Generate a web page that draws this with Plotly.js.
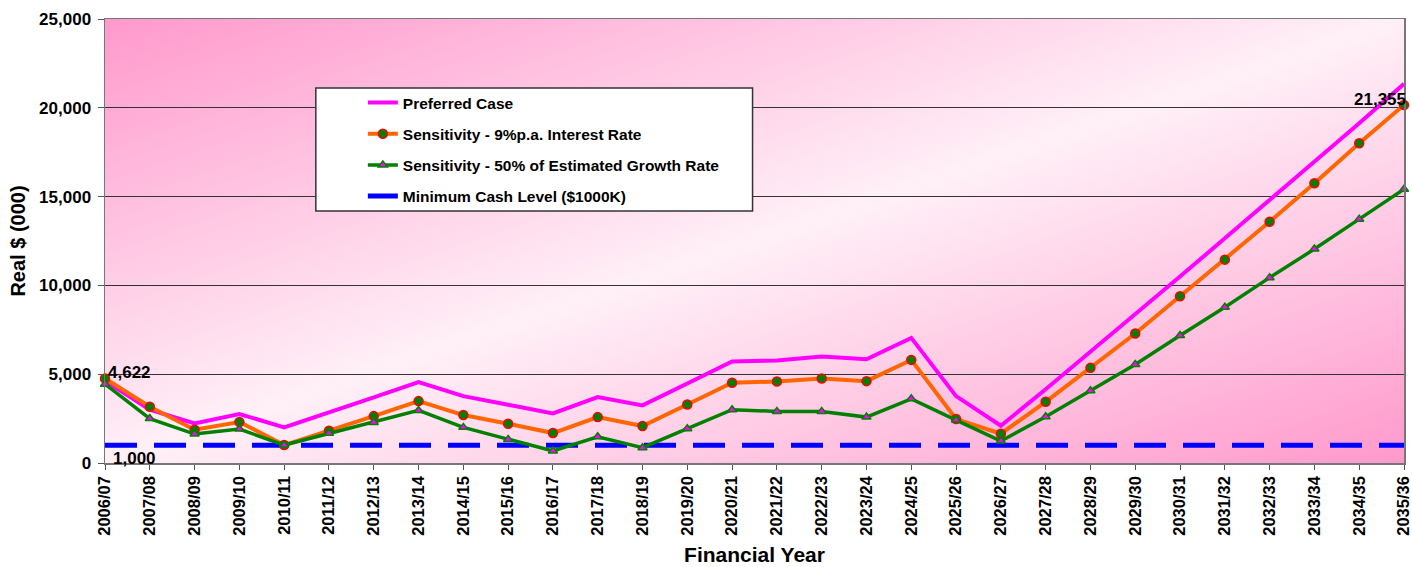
<!DOCTYPE html>
<html>
<head>
<meta charset="utf-8">
<script src="https://cdn.plot.ly/plotly-3.0.1.min.js"></script>
<style>
  html, body { margin: 0; padding: 0; background: #ffffff; }
  #chart { width: 1412px; height: 567px; }
</style>
</head>
<body>
<div id="chart"></div>
<script>
// Financial years on the category axis
const years = ['2006/07','2007/08','2008/09','2009/10','2010/11','2011/12','2012/13','2013/14','2014/15','2015/16',
               '2016/17','2017/18','2018/19','2019/20','2020/21','2021/22','2022/23','2023/24','2024/25','2025/26',
               '2026/27','2027/28','2028/29','2029/30','2030/31','2031/32','2032/33','2033/34','2034/35','2035/36'];

// Cash balance, Real $ (000)
const preferredCase = [4622, 3000, 2230, 2754, 2006, 2830, 3690, 4552, 3765, 3280,
                       2793, 3710, 3243, 4478, 5714, 5770, 5995, 5845, 7045, 3765,
                       2100, 4150, 6250, 8380, 10500, 12650, 14800, 16950, 19130, 21355];

const interestRate9 = [4760, 3165, 1870, 2304, 1012, 1816, 2641, 3484, 2698, 2210,
                       1686, 2585, 2080, 3298, 4515, 4590, 4760, 4610, 5805, 2473,
                       1648, 3447, 5357, 7290, 9385, 11450, 13585, 15750, 18000, 20160];

const growth50 = [4440, 2500, 1630, 1911, 1010, 1670, 2287, 2960, 2006, 1330,
                  674, 1480, 860, 1930, 3000, 2905, 2905, 2585, 3614, 2417,
                  1236, 2603, 4065, 5547, 7175, 8770, 10436, 12045, 13730, 15415];

const minimumCash = [1000, 1000, 1000, 1000, 1000, 1000, 1000, 1000, 1000, 1000,
                     1000, 1000, 1000, 1000, 1000, 1000, 1000, 1000, 1000, 1000,
                     1000, 1000, 1000, 1000, 1000, 1000, 1000, 1000, 1000, 1000];

const yTicks = [0, 5000, 10000, 15000, 20000, 25000];

const FONT = 'Arial, "Liberation Sans", sans-serif';
const fmt = v => v.toLocaleString('en-US');

const traces = [
  {
    name: 'Minimum Cash Level ($1000K)', x: years, y: minimumCash, type: 'scatter', mode: 'lines',
    line: { color: '#0000ff', width: 5, dash: '32px,17px' },
    legendgroup: 'd', legendrank: 4, cliponaxis: false
  },
  {
    name: 'Preferred Case', x: years, y: preferredCase, type: 'scatter', mode: 'lines',
    line: { color: '#ff00ff', width: 4 },
    legendgroup: 'a', legendrank: 1, cliponaxis: false
  },
  {
    name: 'Sensitivity - 9%p.a. Interest Rate', x: years, y: interestRate9, type: 'scatter', mode: 'lines+markers',
    line: { color: '#ff6600', width: 4 },
    marker: { symbol: 'circle', size: 9, color: '#008000', line: { color: '#ff0000', width: 1.5 } },
    legendgroup: 'b', legendrank: 2, cliponaxis: false
  },
  {
    name: 'Sensitivity - 50% of Estimated Growth Rate', x: years, y: growth50, type: 'scatter', mode: 'lines+markers',
    line: { color: '#008000', width: 3.5 },
    marker: { symbol: 'triangle-up', size: 8, color: '#ff00ff', line: { color: '#008000', width: 1.5 } },
    legendgroup: 'c', legendrank: 3, cliponaxis: false
  }
];

// Diagonal pink wash behind the plot area
const wash = "<svg xmlns='http://www.w3.org/2000/svg' width='1300' height='444' preserveAspectRatio='none'>" +
  "<defs><linearGradient id='g' x1='0' y1='0' x2='1' y2='1'>" +
  "<stop offset='0' stop-color='#ff99cc'/><stop offset='0.5' stop-color='#fff0f7'/><stop offset='1' stop-color='#ff99cc'/>" +
  "</linearGradient></defs><rect width='1300' height='444' fill='url(#g)'/></svg>";

const last = years.length - 1;
const labelFont = { family: FONT, size: 17, color: '#000000', weight: 'bold' };

const layout = {
  width: 1412, height: 567,
  margin: { l: 105, r: 8, t: 19, b: 104, pad: 0 },
  paper_bgcolor: '#ffffff',
  plot_bgcolor: 'rgba(0,0,0,0)',
  font: { family: FONT, color: '#000000' },
  images: [{
    source: 'data:image/svg+xml;charset=utf-8,' + encodeURIComponent(wash),
    xref: 'paper', yref: 'paper', x: 0, y: 1, sizex: 1, sizey: 1,
    xanchor: 'left', yanchor: 'top', sizing: 'stretch', layer: 'below'
  }],
  xaxis: {
    type: 'category', range: [0, last],
    showline: true, linecolor: '#777777', linewidth: 1.5, mirror: true,
    ticks: 'outside', ticklen: 5, tickcolor: '#555555', tickwidth: 1,
    tickangle: -90, tickfont: { family: FONT, size: 16.5, weight: 'bold' },
    showgrid: false, zeroline: false,
    title: { text: 'Financial Year', font: { family: FONT, size: 21, weight: 'bold' }, standoff: 12 }
  },
  yaxis: {
    range: [0, 25000], tickvals: yTicks, ticktext: yTicks.map(fmt),
    showline: true, linecolor: '#777777', linewidth: 1.5, mirror: true,
    ticks: 'outside', ticklen: 6, tickcolor: '#555555', tickwidth: 1,
    ticklabelstandoff: 3,
    tickfont: { family: FONT, size: 17, weight: 'bold' },
    showgrid: true, gridcolor: '#333333', gridwidth: 1, zeroline: false,
    title: { text: 'Real $ (000)', font: { family: FONT, size: 20, weight: 'bold' }, standoff: 8 }
  },
  legend: {
    x: 0.1985, y: 0.849, xanchor: 'left', yanchor: 'top',
    bgcolor: 'rgba(0,0,0,0)', borderwidth: 0,
    traceorder: 'grouped', tracegroupgap: 8,
    font: { family: FONT, size: 15.5, color: '#000000', weight: 'bold' }
  },
  shapes: [{
    type: 'rect', xref: 'paper', yref: 'paper', layer: 'above',
    x0: 0.1623, x1: 0.4985, y0: 0.5676, y1: 0.8446,
    fillcolor: '#ffffff', line: { color: '#333333', width: 1.5 }
  }],
  annotations: [
    { x: years[0], y: preferredCase[0], xref: 'x', yref: 'y', text: fmt(preferredCase[0]), showarrow: false,
      xanchor: 'left', yanchor: 'bottom', xshift: 1, yshift: -3, font: labelFont },
    { x: years[0], y: minimumCash[0], xref: 'x', yref: 'y', text: fmt(minimumCash[0]), showarrow: false,
      xanchor: 'left', yanchor: 'top', xshift: 6, yshift: -2, font: labelFont },
    { x: years[last], y: preferredCase[last], xref: 'x', yref: 'y', text: fmt(preferredCase[last]), showarrow: false,
      xanchor: 'right', yanchor: 'top', xshift: 4, yshift: -4, font: labelFont }
  ],
  showlegend: true
};

Plotly.newPlot('chart', traces, layout, { displayModeBar: false, staticPlot: true });
</script>
</body>
</html>
